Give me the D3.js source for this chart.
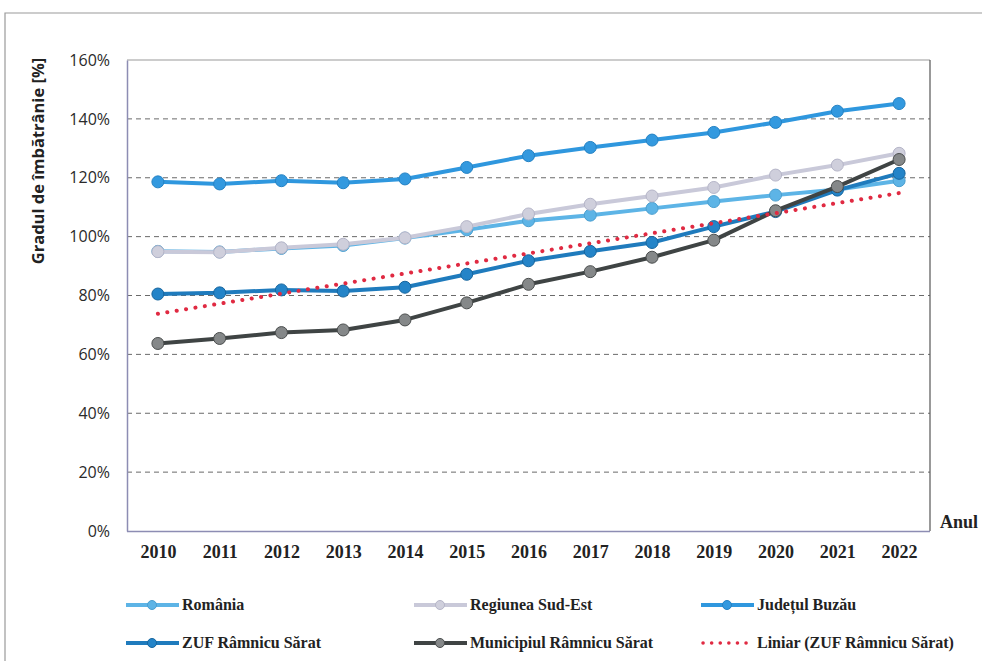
<!DOCTYPE html>
<html>
<head>
<meta charset="utf-8">
<script src="https://cdn.jsdelivr.net/npm/d3@7"></script>
<style>
  body { margin: 0; background: #fff; }
  svg { display: block; }
</style>
</head>
<body>
<div id="chart"></div>
<script>
var years = [2010, 2011, 2012, 2013, 2014, 2015, 2016, 2017, 2018, 2019, 2020, 2021, 2022];
var yTicks = [0, 0.2, 0.4, 0.6, 0.8, 1.0, 1.2, 1.4, 1.6];

// values in %
var romania   = [95.0, 94.8, 96.0, 97.0, 99.5, 102.3, 105.4, 107.3, 109.6, 111.9, 114.1, 116.0, 119.0];
var sudEst    = [94.9, 94.7, 96.2, 97.4, 99.6, 103.4, 107.7, 111.0, 113.8, 116.7, 120.9, 124.3, 128.3];
var buzau     = [118.6, 117.9, 119.0, 118.3, 119.6, 123.5, 127.5, 130.3, 132.8, 135.4, 138.8, 142.6, 145.2];
var zuf       = [80.5, 80.9, 81.9, 81.5, 82.8, 87.2, 91.8, 95.0, 98.0, 103.4, 108.5, 115.8, 121.5];
var municipiu = [63.7, 65.4, 67.4, 68.3, 71.7, 77.5, 83.8, 88.1, 93.0, 98.8, 108.8, 117.0, 126.2];
// trend line (linear, ZUF) read at its two ends
var trendYears  = [2010, 2022];
var trendValues = [73.8, 114.8];

var series = [
  {name: "România", values: romania, color: "#5db4e6", marker: "#5db4e6", edge: "#4a9fd0"},
  {name: "Regiunea Sud-Est", values: sudEst, color: "#c9c9d9", marker: "#cfcfdc", edge: "#b5b5c8"},
  {name: "Județul Buzău", values: buzau, color: "#2f97de", marker: "#3399df", edge: "#2482c4"},
  {name: "ZUF Râmnicu Sărat", values: zuf, color: "#1f7bbd", marker: "#2484c8", edge: "#16659e"},
  {name: "Municipiul Râmnicu Sărat", values: municipiu, color: "#3f4444", marker: "#858889", edge: "#4a4d4d"}
];

var W = 982, H = 661;
var plot = {left: 127, right: 930, top: 60, bottom: 531};

var svg = d3.select("#chart").append("svg")
    .attr("width", W)
    .attr("height", H);

// outer frame
svg.append("path")
    .attr("d", "M5," + H + "V13H" + W)
    .attr("fill", "none")
    .attr("stroke", "#9a9a9a")
    .attr("stroke-width", 1.2);

var x = d3.scalePoint().domain(years).range([plot.left, plot.right]).padding(0.5);
var y = d3.scaleLinear().domain([0, 1.6]).range([plot.bottom, plot.top]);

// gridlines
svg.append("g")
    .selectAll("line")
    .data(yTicks.filter(function(d) { return d > 0 && d < 1.6; }))
    .enter().append("line")
    .attr("x1", plot.left)
    .attr("x2", plot.right)
    .attr("y1", function(d) { return y(d); })
    .attr("y2", function(d) { return y(d); })
    .attr("stroke", "#6a6a6a")
    .attr("stroke-width", 1)
    .attr("stroke-dasharray", "5,4");

// plot border
svg.append("line").attr("x1", plot.left).attr("x2", plot.right).attr("y1", plot.top).attr("y2", plot.top)
    .attr("stroke", "#9a9a9a").attr("stroke-width", 1.2);
svg.append("line").attr("x1", plot.right).attr("x2", plot.right).attr("y1", plot.top).attr("y2", plot.bottom)
    .attr("stroke", "#555").attr("stroke-width", 1.2);

// Y axis
var yAxis = svg.append("g")
    .attr("transform", "translate(" + plot.left + ",0)")
    .call(d3.axisLeft(y).tickValues(yTicks).tickFormat(d3.format(".0%")).tickSize(0).tickPadding(17));
yAxis.select(".domain").attr("stroke", "#8d8db3").attr("stroke-width", 1.5);
yAxis.selectAll("text")
    .attr("font-family", "'Open Sans', sans-serif")
    .attr("font-size", 16)
    .attr("font-weight", 500)
    .attr("fill", "#2a2a2a");

// X axis
var xAxis = svg.append("g")
    .attr("transform", "translate(0," + plot.bottom + ")")
    .call(d3.axisBottom(x).tickSize(0).tickPadding(14));
xAxis.select(".domain").attr("stroke", "#8d8db3").attr("stroke-width", 1.5)
    .attr("d", "M" + plot.left + ",0.5H" + plot.right);
xAxis.selectAll("text")
    .attr("font-family", "'Liberation Serif', serif")
    .attr("font-weight", "bold")
    .attr("font-size", 18)
    .attr("fill", "#222");

// axis titles
svg.append("text")
    .attr("transform", "translate(44,161) rotate(-90)")
    .attr("text-anchor", "middle")
    .attr("font-family", "'Open Sans', sans-serif")
    .attr("font-weight", "bold")
    .attr("font-size", 16.5)
    .attr("fill", "#222")
    .text("Gradul de îmbătrânie [%]");

svg.append("text")
    .attr("x", 940)
    .attr("y", 528)
    .attr("font-family", "'Liberation Serif', serif")
    .attr("font-weight", "bold")
    .attr("font-size", 18)
    .attr("fill", "#222")
    .text("Anul");

var line = d3.line()
    .x(function(d, i) { return x(years[i]); })
    .y(function(d) { return y(d / 100); });

// Add the series
series.forEach(function(s) {
    var g = svg.append("g");
    g.append("path")
        .attr("d", line(s.values))
        .attr("fill", "none")
        .attr("stroke", s.color)
        .attr("stroke-width", 4)
        .attr("stroke-linejoin", "round");
    g.selectAll("circle")
        .data(s.values)
        .enter().append("circle")
        .attr("cx", function(d, i) { return x(years[i]); })
        .attr("cy", function(d) { return y(d / 100); })
        .attr("r", 6)
        .attr("fill", s.marker)
        .attr("stroke", s.edge)
        .attr("stroke-width", 1);
});

// trend line
var trendLine = d3.line()
    .x(function(d, i) { return x(trendYears[i]); })
    .y(function(d) { return y(d / 100); });
svg.append("path")
    .attr("d", trendLine(trendValues))
    .attr("fill", "none")
    .attr("stroke", "#e02a42")
    .attr("stroke-width", 4)
    .attr("stroke-linecap", "round")
    .attr("stroke-dasharray", "0.1,9.4");

// legend
var legendItems = series.map(function(s) { return {name: s.name, s: s}; });
legendItems.push({name: "Liniar (ZUF Râmnicu Sărat)", trend: true});
var legendCols = [126, 414, 701];
var legendRows = [605, 643];

var leg = svg.append("g");
legendItems.forEach(function(item, i) {
    var lx = legendCols[i % 3], ly = legendRows[Math.floor(i / 3)];
    if (item.trend) {
        leg.append("line")
            .attr("x1", lx + 2).attr("x2", lx + 52)
            .attr("y1", ly).attr("y2", ly)
            .attr("stroke", "#e02a42")
            .attr("stroke-width", 3.5)
            .attr("stroke-linecap", "round")
            .attr("stroke-dasharray", "0.1,8.5");
    } else {
        leg.append("line")
            .attr("x1", lx).attr("x2", lx + 53)
            .attr("y1", ly).attr("y2", ly)
            .attr("stroke", item.s.color)
            .attr("stroke-width", 4);
        leg.append("circle")
            .attr("cx", lx + 26).attr("cy", ly)
            .attr("r", 4.5)
            .attr("fill", item.s.marker)
            .attr("stroke", item.s.edge);
    }
    leg.append("text")
        .attr("x", lx + 56)
        .attr("y", ly + 5)
        .attr("font-family", "'Liberation Serif', serif")
        .attr("font-weight", "bold")
        .attr("font-size", 16)
        .attr("fill", "#222")
        .text(item.name);
});
</script>
</body>
</html>
